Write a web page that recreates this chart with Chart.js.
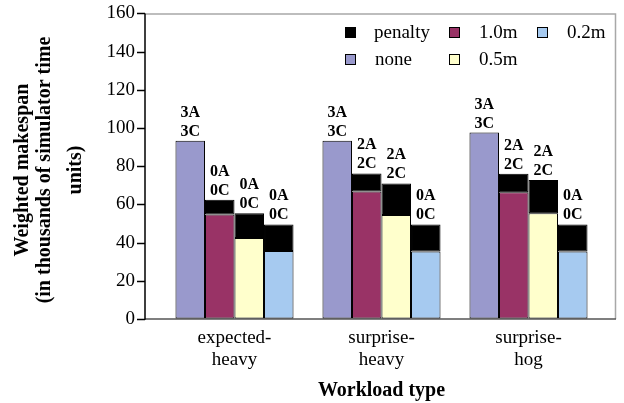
<!DOCTYPE html>
<html>
<head>
<meta charset="utf-8">
<script src="https://cdn.jsdelivr.net/npm/chart.js@4/dist/chart.umd.min.js"></script>
<style>
  html, body { margin: 0; padding: 0; background: #fff; }
  #wrap { width: 624px; height: 403px; }
</style>
</head>
<body>
<div id="wrap"><canvas id="chart"></canvas></div>
<script>
// Workload types (x categories)
const workloads = [['expected-', 'heavy'], ['surprise-', 'heavy'], ['surprise-', 'hog']];

// Base makespan for each deadline setting (thousands of time units)
const noneVals = [93.3, 93.3, 97.6];
const m10Vals = [54.7, 66.7, 66.3];
const m05Vals = [42.4, 54.4, 55.4];
const m02Vals = [35.6, 35.3, 35.3];

// Penalty part stacked on top of each base bar
const m10Penalty = [7.7, 9.5, 9.8];
const m05Penalty = [13.0, 16.6, 17.4];
const m02Penalty = [13.9, 14.2, 14.2];

// Annotation counts above each bar: [none, 1.0m, 0.5m, 0.2m] per workload
const countA = [[3, 0, 0, 0], [3, 2, 2, 0], [3, 2, 2, 0]];
const countC = [[3, 0, 0, 0], [3, 2, 2, 0], [3, 2, 2, 0]];

// Y axis range
const yMin = 0;
const yMax = 160;
const yStep = 20;

const serif = '"Liberation Serif", "Times New Roman", serif';

const colors = {
    penalty: '#000000',
    none: '#9999cc',
    m10: '#993366',
    m05: '#ffffcc',
    m02: '#a6caf0'
};

// The frame sits a little outside the category range
const frameLeft = 145;
const frameRight = 616;

function barSet(label, data, color, stack) {
    return {
        label: label,
        data: data,
        backgroundColor: color,
        borderColor: '#000',
        borderWidth: 1,
        borderSkipped: false,
        stack: stack
    };
}

const datasets = [
    barSet('none', noneVals, colors.none, 's0'),
    barSet('1.0m', m10Vals, colors.m10, 's1'),
    barSet('penalty', m10Penalty, colors.penalty, 's1'),
    barSet('0.5m', m05Vals, colors.m05, 's2'),
    barSet('penalty', m05Penalty, colors.penalty, 's2'),
    barSet('0.2m', m02Vals, colors.m02, 's3'),
    barSet('penalty', m02Penalty, colors.penalty, 's3')
];

// Index of the top dataset of each stack, used for the count labels
const stackTops = [0, 2, 4, 6];

// Plot frame: black left axis with ticks, gray top/right/bottom
const framePlugin = {
    id: 'frame',
    beforeDatasetsDraw(chart) {
        const a = chart.chartArea;
        const ctx = chart.ctx;
        const y = chart.scales.y;
        ctx.save();
        ctx.strokeStyle = '#a8a8a8';
        ctx.lineWidth = 1.5;
        ctx.beginPath();
        ctx.moveTo(frameLeft, a.top + 0.5);
        ctx.lineTo(frameRight - 0.5, a.top + 0.5);
        ctx.lineTo(frameRight - 0.5, a.bottom);
        ctx.stroke();
        ctx.strokeStyle = '#555';
        ctx.beginPath();
        ctx.moveTo(frameLeft, a.bottom);
        ctx.lineTo(frameRight, a.bottom);
        ctx.stroke();
        ctx.strokeStyle = '#000';
        ctx.beginPath();
        ctx.moveTo(frameLeft, a.top);
        ctx.lineTo(frameLeft, a.bottom + 0.75);
        y.ticks.forEach(t => {
            const py = Math.round(y.getPixelForValue(t.value)) + 0.5;
            ctx.moveTo(frameLeft - 8, py);
            ctx.lineTo(frameLeft, py);
        });
        ctx.stroke();
        ctx.restore();
    }
};

// "3A / 3C" labels above each stack
const countsPlugin = {
    id: 'counts',
    afterDatasetsDraw(chart) {
        const ctx = chart.ctx;
        ctx.save();
        ctx.font = 'bold 16px ' + serif;
        ctx.fillStyle = '#000';
        ctx.textAlign = 'center';
        ctx.textBaseline = 'alphabetic';
        stackTops.forEach((di, s) => {
            const meta = chart.getDatasetMeta(di);
            meta.data.forEach((bar, i) => {
                ctx.fillText(countA[i][s] + 'A', bar.x, bar.y - 24);
                ctx.fillText(countC[i][s] + 'C', bar.x, bar.y - 5);
            });
        });
        ctx.restore();
    }
};

// Legend laid out in two rows, like the original
const legendPlugin = {
    id: 'boxLegend',
    afterDraw(chart) {
        const ctx = chart.ctx;
        const items = [
            { text: 'penalty', color: colors.penalty, x: 345, y: 32 },
            { text: '1.0m', color: colors.m10, x: 449, y: 32 },
            { text: '0.2m', color: colors.m02, x: 537, y: 32 },
            { text: 'none', color: colors.none, x: 345, y: 59 },
            { text: '0.5m', color: colors.m05, x: 449, y: 59 }
        ];
        ctx.save();
        ctx.font = '19px ' + serif;
        ctx.textBaseline = 'middle';
        items.forEach(it => {
            ctx.fillStyle = it.color;
            ctx.fillRect(it.x, it.y - 5, 11, 11);
            ctx.strokeStyle = '#000';
            ctx.lineWidth = 1;
            ctx.strokeRect(it.x + 0.5, it.y - 4.5, 10, 10);
            ctx.fillStyle = '#000';
            ctx.fillText(it.text, it.x + (it.text === 'penalty' ? 29 : 30), it.y + 1);
        });
        ctx.restore();
    }
};

// Rotated three-line y title
const yTitlePlugin = {
    id: 'yTitle',
    afterDraw(chart) {
        const ctx = chart.ctx;
        const lines = [
            { text: 'Weighted makespan', x: 23 },
            { text: '(in thousands of simulator time', x: 45 },
            { text: 'units)', x: 76 }
        ];
        ctx.save();
        ctx.font = 'bold 20px ' + serif;
        ctx.fillStyle = '#000';
        ctx.textAlign = 'center';
        ctx.textBaseline = 'middle';
        lines.forEach(l => {
            ctx.save();
            ctx.translate(l.x, 170);
            ctx.rotate(-Math.PI / 2);
            ctx.fillText(l.text, 0, 0);
            ctx.restore();
        });
        ctx.restore();
    }
};

new Chart(document.getElementById('chart'), {
    type: 'bar',
    data: { labels: workloads, datasets: datasets },
    options: {
        responsive: true,
        maintainAspectRatio: false,
        animation: false,
        layout: { padding: { top: 12, right: 624 - frameRight + 14, left: 0, bottom: 0 } },
        datasets: {
            bar: { categoryPercentage: 0.803, barPercentage: 1.0 }
        },
        plugins: {
            legend: { display: false },
            tooltip: { enabled: false }
        },
        scales: {
            x: {
                stacked: true,
                grid: { display: false },
                border: { display: false },
                ticks: {
                    color: '#000',
                    font: { family: serif, size: 19, lineHeight: 1.15 },
                    padding: 0,
                    maxRotation: 0
                },
                title: {
                    display: true,
                    text: 'Workload type',
                    color: '#000',
                    font: { family: serif, size: 20, weight: 'bold' },
                    padding: { top: 6, bottom: 0 }
                },
                afterFit(scale) { scale.height = 84; }
            },
            y: {
                stacked: true,
                min: yMin,
                max: yMax,
                // transparent tick marks only push the labels out to the frame
                grid: {
                    drawOnChartArea: false,
                    drawTicks: true,
                    tickLength: 24,
                    color: 'rgba(0,0,0,0)'
                },
                border: { display: false },
                ticks: {
                    stepSize: yStep,
                    color: '#000',
                    padding: 2,
                    font: { family: serif, size: 19 }
                },
                afterFit(scale) { scale.width = frameLeft + 16; }
            }
        }
    },
    plugins: [framePlugin, countsPlugin, legendPlugin, yTitlePlugin]
});
</script>
</body>
</html>
